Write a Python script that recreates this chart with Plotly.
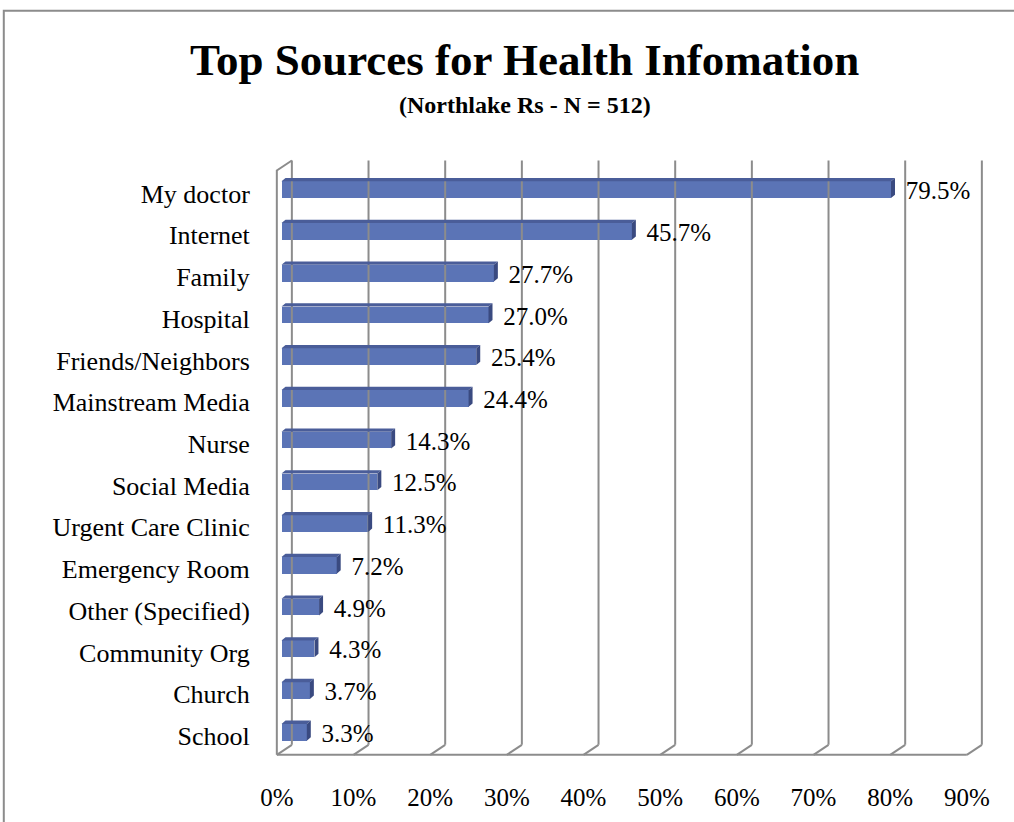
import plotly.graph_objects as go

# ---- data ----
categories = ["My doctor", "Internet", "Family", "Hospital", "Friends/Neighbors",
              "Mainstream Media", "Nurse", "Social Media", "Urgent Care Clinic",
              "Emergency Room", "Other (Specified)", "Community Org", "Church", "School"]
values = [79.5, 45.7, 27.7, 27.0, 25.4, 24.4, 14.3, 12.5, 11.3, 7.2, 4.9, 4.3, 3.7, 3.3]
tick_vals = [0, 10, 20, 30, 40, 50, 60, 70, 80, 90]
tick_text = [f"{t}%" for t in tick_vals]
title = "Top Sources for Health Infomation"
subtitle = "(Northlake Rs - N = 512)"

# ---- geometry (pixel layout) ----
W, H = 1014, 822
X_RANGE = [-0.5, 92.5]
Y_RANGE = [13.6, -0.8]
ML, MR, MT, MB = 273.2, 27.8, 157.5, 62.8
PW, PH = W - ML - MR, H - MT - MB

def px_to_paper_x(px):
    return (px - ML) / PW

def px_to_paper_y(py):
    return 1 - (py - MT) / PH

FONT = "Liberation Serif"
GRID = "#8c8c8c"
FRONT = "#5b74b6"
TOP = "#4a5d99"
SIDE = "#3a4a80"

DX, DY = 1.96, 0.24          # full depth offset of the 3D box (x in %, y in bands)
BAR_BASE, BAR_DY = 0.61, 0.04  # bar depth position
BAR_W = 0.40
BDX, BDY = 0.52, 0.08          # bar's own depth
LABEL_GAP = 1.4
LABEL_DY = 0.08
CAT_DY = 0.05

n = len(categories)
ypos = [i - BAR_DY for i in range(n)]

fig = go.Figure()

# ---- 3D walls / gridlines ----
gx, gy = [], []
for t in tick_vals:
    gx += [t + DX, t + DX, None]
    gy += [-0.5 - DY, n - 0.5 - DY, None]
    gx += [t, t + DX, None]
    gy += [n - 0.5, n - 0.5 - DY, None]
gx += [tick_vals[0], tick_vals[-1], None]
gy += [n - 0.5, n - 0.5, None]
gx += [0, 0, DX, None]
gy += [n - 0.5, -0.5, -0.5 - DY, None]
fig.add_trace(go.Scatter(x=gx, y=gy, mode="lines", line=dict(color=GRID, width=2),
                         hoverinfo="skip", showlegend=False))

# ---- bar front faces ----
fig.add_trace(go.Bar(orientation="h", y=ypos, x=values, base=BAR_BASE, width=BAR_W,
                     marker=dict(color=FRONT, line=dict(width=0)), showlegend=False,
                     hoverinfo="skip"))

# ---- bar top and side faces ----
tx, ty, sx, sy = [], [], [], []
for y, v in zip(ypos, values):
    x0, x1 = BAR_BASE, BAR_BASE + v
    yt, yb = y - BAR_W / 2, y + BAR_W / 2
    tx += [x0, x1, x1 + BDX, x0 + BDX, x0, None]
    ty += [yt, yt, yt - BDY, yt - BDY, yt, None]
    sx += [x1, x1 + BDX, x1 + BDX, x1, x1, None]
    sy += [yt, yt - BDY, yb - BDY, yb, yt, None]
fig.add_trace(go.Scatter(x=tx, y=ty, mode="lines", fill="toself", fillcolor=TOP,
                         line=dict(width=0, color=TOP), hoverinfo="skip", showlegend=False))
fig.add_trace(go.Scatter(x=sx, y=sy, mode="lines", fill="toself", fillcolor=SIDE,
                         line=dict(width=0, color=SIDE), hoverinfo="skip", showlegend=False))

# ---- data labels ----
fig.add_trace(go.Scatter(x=[BAR_BASE + v + BDX + LABEL_GAP for v in values],
                         y=[y + LABEL_DY for y in ypos],
                         mode="text", text=[f"{v:.1f}%" for v in values],
                         textposition="middle right",
                         textfont=dict(family=FONT, size=25, color="black"),
                         hoverinfo="skip", showlegend=False, cliponaxis=False))

fig.update_layout(
    width=W, height=H,
    margin=dict(l=ML, r=MR, t=MT, b=MB, autoexpand=False),
    paper_bgcolor="white", plot_bgcolor="white",
    font=dict(family=FONT, size=25, color="black"),
    xaxis=dict(range=X_RANGE, tickvals=tick_vals, ticktext=tick_text, showgrid=False,
               zeroline=False, showline=False, ticks="outside", ticklen=16,
               tickcolor="rgba(0,0,0,0)", tickfont=dict(family=FONT, size=25)),
    yaxis=dict(range=Y_RANGE, tickvals=[i + CAT_DY for i in range(n)], ticktext=categories,
               showgrid=False, zeroline=False, showline=False, ticks="outside",
               ticklen=17, tickcolor="rgba(0,0,0,0)", tickfont=dict(family=FONT, size=26)),
    bargap=0,
    shapes=[dict(type="rect", xref="paper", yref="paper",
                 x0=px_to_paper_x(4), x1=px_to_paper_x(1030),
                 y0=px_to_paper_y(10), y1=px_to_paper_y(840),
                 line=dict(color=GRID, width=2), fillcolor="rgba(0,0,0,0)")],
    annotations=[
        dict(text=f"<b>{title}</b>", xref="paper", yref="paper",
             x=px_to_paper_x(524.5), y=px_to_paper_y(59), xanchor="center", yanchor="middle",
             showarrow=False, font=dict(family=FONT, size=45, color="black")),
        dict(text=f"<b>{subtitle}</b>", xref="paper", yref="paper",
             x=px_to_paper_x(525), y=px_to_paper_y(104), xanchor="center", yanchor="middle",
             showarrow=False, font=dict(family=FONT, size=24, color="black")),
    ],
)

fig.write_html("out.html", config={"displayModeBar": False},
               post_script="document.body.style.margin='0';")
